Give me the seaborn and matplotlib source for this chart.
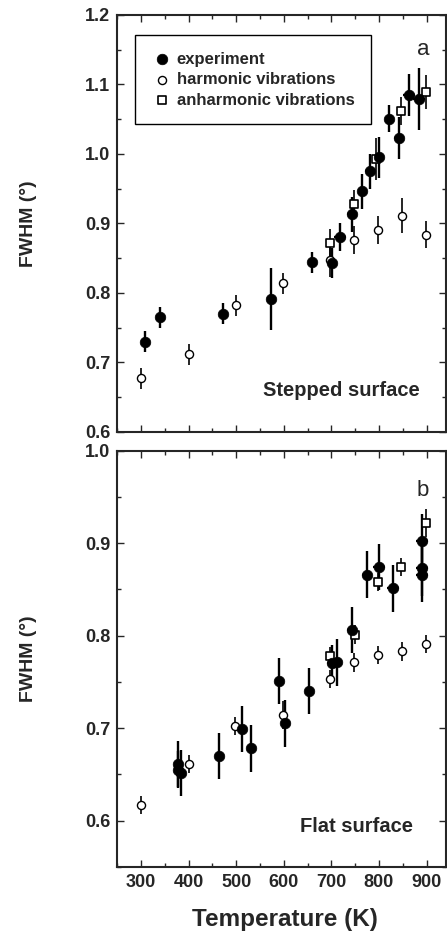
import numpy as np
import pandas as pd
import matplotlib
matplotlib.use("Agg")
import matplotlib.pyplot as plt
import seaborn as sns
from matplotlib.ticker import MultipleLocator, FormatStrFormatter

# ---------------- data: panel a (stepped surface) ----------------
a_exp_T = [308, 340, 472, 573, 660, 701, 718, 743, 765, 781, 800, 822, 842, 863, 884]
a_exp_F = [0.730, 0.765, 0.770, 0.791, 0.844, 0.843, 0.881, 0.913, 0.946, 0.975, 0.995, 1.051, 1.023, 1.085, 1.079]
a_exp_yerr = [0.015, 0.015, 0.015, 0.045, 0.015, 0.022, 0.02, 0.025, 0.025, 0.025, 0.03, 0.02, 0.03, 0.03, 0.045]
a_exp_xerr = [0, 0, 0, 0, 10, 10, 12, 10, 10, 10, 10, 10, 10, 12, 12]

a_harm_T = [300, 400, 500, 598, 697, 748, 798, 848, 898]
a_harm_F = [0.677, 0.712, 0.782, 0.814, 0.848, 0.876, 0.891, 0.911, 0.884]
a_harm_yerr = [0.015, 0.015, 0.015, 0.015, 0.025, 0.02, 0.02, 0.025, 0.02]

a_anh_T = [697, 748, 794, 847, 898]
a_anh_F = [0.872, 0.928, 0.993, 1.062, 1.089]
a_anh_yerr = [0.02, 0.02, 0.03, 0.02, 0.025]

# ---------------- data: panel b (flat surface) ----------------
b_exp_T = [378, 378, 384, 463, 512, 532, 591, 602, 652, 701, 711, 743, 774, 800, 829, 890, 890, 890]
b_exp_F = [0.661, 0.655, 0.651, 0.670, 0.699, 0.678, 0.751, 0.705, 0.740, 0.770, 0.771, 0.806, 0.866, 0.874, 0.851, 0.902, 0.873, 0.866]
b_exp_yerr = [0.025, 0.02, 0.025, 0.025, 0.025, 0.025, 0.025, 0.025, 0.025, 0.02, 0.025, 0.025, 0.025, 0.025, 0.025, 0.03, 0.03, 0.03]
b_exp_xerr = [0, 0, 0, 0, 0, 0, 0, 0, 8, 10, 12, 10, 10, 12, 12, 12, 12, 12]

b_harm_T = [300, 400, 498, 598, 697, 748, 798, 848, 898]
b_harm_F = [0.617, 0.661, 0.702, 0.714, 0.753, 0.771, 0.779, 0.783, 0.791]
b_harm_yerr = [0.01, 0.01, 0.01, 0.015, 0.01, 0.01, 0.01, 0.01, 0.01]

b_anh_T = [697, 749, 798, 847, 899]
b_anh_F = [0.778, 0.801, 0.858, 0.874, 0.922]
b_anh_yerr = [0.01, 0.01, 0.01, 0.01, 0.015]

x_ticks = [300, 400, 500, 600, 700, 800, 900]

sns.set_style("ticks")
plt.rcParams['font.family'] = ['Liberation Sans', 'DejaVu Sans']
plt.rcParams['font.weight'] = 'bold'
plt.rcParams['axes.labelweight'] = 'bold'

fig = plt.figure(figsize=(4.47, 9.35), dpi=100)
ax1 = fig.add_axes([0.262, 0.538, 0.735, 0.446])
ax2 = fig.add_axes([0.262, 0.073, 0.735, 0.445])


def draw(ax, eT, eF, eyerr, exerr, hT, hF, hyerr, nT, nF, nyerr):
    ax.errorbar(hT, hF, yerr=hyerr, fmt='none', ecolor='black', elinewidth=1.2, capsize=0, zorder=2)
    ax.errorbar(nT, nF, yerr=nyerr, fmt='none', ecolor='black', elinewidth=1.2, capsize=0, zorder=2)
    ax.errorbar(eT, eF, yerr=eyerr, xerr=exerr, fmt='none', ecolor='black', elinewidth=1.7, capsize=0, zorder=3)
    sns.scatterplot(x=hT, y=hF, ax=ax, marker='o', s=34, facecolor='white', edgecolor='black',
                    linewidth=1.0, zorder=4, label='harmonic vibrations')
    sns.scatterplot(x=nT, y=nF, ax=ax, marker='s', s=36, facecolor='white', edgecolor='black',
                    linewidth=1.2, zorder=4, label='anharmonic vibrations')
    sns.scatterplot(x=eT, y=eF, ax=ax, marker='o', s=58, color='black', edgecolor='black',
                    linewidth=0.5, zorder=5, label='experiment')
    ax.set_xlim(250, 940)
    ax.xaxis.set_major_locator(MultipleLocator(100))
    ax.xaxis.set_minor_locator(MultipleLocator(50))
    ax.yaxis.set_minor_locator(MultipleLocator(0.05))
    ax.tick_params(which='both', direction='in', top=True, right=True, labelsize=13, width=1.0, pad=5)
    ax.tick_params(which='major', length=5)
    ax.tick_params(which='minor', length=3)
    for s in ax.spines.values():
        s.set_linewidth(1.5)
    ax.set_ylabel('FWHM (°)', fontsize=14, fontweight='bold')
    ax.yaxis.set_label_coords(-0.243, 0.5)
    for lab in ax.get_xticklabels() + ax.get_yticklabels():
        lab.set_fontweight('bold')


draw(ax1, a_exp_T, a_exp_F, a_exp_yerr, a_exp_xerr, a_harm_T, a_harm_F, a_harm_yerr, a_anh_T, a_anh_F, a_anh_yerr)
draw(ax2, b_exp_T, b_exp_F, b_exp_yerr, b_exp_xerr, b_harm_T, b_harm_F, b_harm_yerr, b_anh_T, b_anh_F, b_anh_yerr)

ax1.set_ylim(0.6, 1.2)
ax1.yaxis.set_major_locator(MultipleLocator(0.1))
ax1.yaxis.set_major_formatter(FormatStrFormatter('%.1f'))
ax1.set_xticks(x_ticks)
ax1.set_xticklabels([])

ax2.set_ylim(0.55, 1.0)
ax2.set_yticks([0.6, 0.7, 0.8, 0.9, 1.0])
ax2.yaxis.set_major_formatter(FormatStrFormatter('%.1f'))
ax2.set_xticks(x_ticks)
ax2.set_xticklabels([str(t) for t in x_ticks], fontweight='bold')
ax2.set_xlabel('Temperature (K)', fontsize=17.5, fontweight='bold')
ax2.xaxis.set_label_coords(0.511, -0.098)

# legend (top panel only)
handles, labels = ax1.get_legend_handles_labels()
order = [labels.index('experiment'), labels.index('harmonic vibrations'), labels.index('anharmonic vibrations')]
leg = ax1.legend([handles[i] for i in order], [labels[i] for i in order], loc='upper left',
                 bbox_to_anchor=(0.055, 0.952), fancybox=False, framealpha=1, edgecolor='black',
                 prop={'weight': 'bold', 'size': 12}, handletextpad=0.3, borderpad=1.0,
                 labelspacing=0.33, handlelength=1.2, borderaxespad=0)
leg.get_frame().set_linewidth(1.0)
ax2.get_legend().remove()

ax1.text(0.95, 0.905, 'a', transform=ax1.transAxes, fontsize=16, fontweight='normal', ha='right')
ax1.text(0.922, 0.10, 'Stepped surface', transform=ax1.transAxes, fontsize=14.5, fontweight='bold',
         ha='right', va='center')
ax2.text(0.95, 0.89, 'b', transform=ax2.transAxes, fontsize=16, fontweight='normal', ha='right')
ax2.text(0.901, 0.096, 'Flat surface', transform=ax2.transAxes, fontsize=14.5, fontweight='bold',
         ha='right', va='center')

fig.savefig('out.png', dpi=100)
